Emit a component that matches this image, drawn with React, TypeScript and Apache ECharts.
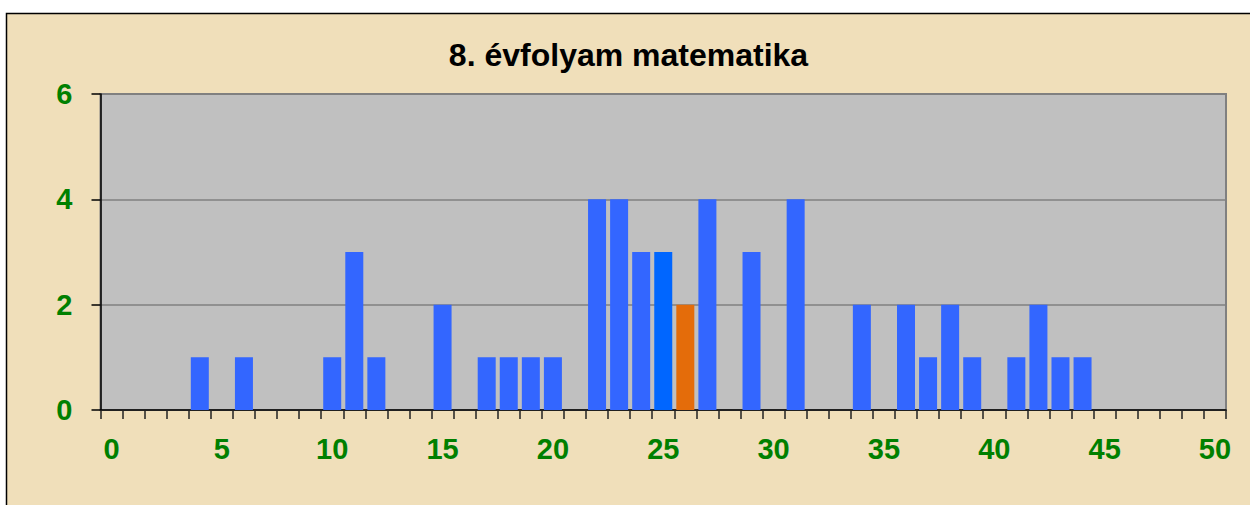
import React, { useEffect, useRef } from "react";
import * as echarts from "echarts";

const titleText = "8. évfolyam matematika";
const categories: string[] = Array.from({ length: 51 }, (_, i) => String(i));
const counts: number[] = [
  0, 0, 0, 0, 1, 0, 1, 0, 0, 0,
  1, 3, 1, 0, 0, 2, 0, 1, 1, 1,
  1, 0, 4, 4, 3, 3, 2, 4, 0, 3,
  0, 4, 0, 0, 2, 0, 2, 1, 2, 1,
  0, 1, 2, 1, 1, 0, 0, 0, 0, 0,
  0,
];
const highlightBlue = 25;
const highlightOrange = 26;

export default function App() {
  const ref = useRef<HTMLDivElement>(null);
  useEffect(() => {
    if (!ref.current) return;
    const chart = echarts.init(ref.current, null, { renderer: "svg" });
    const font = "'Liberation Sans', Arial, sans-serif";
    const data = counts.map((v, i) => {
      let color = "#3366FF";
      if (i === highlightBlue) color = "#0066FF";
      if (i === highlightOrange) color = "#E46C0A";
      return { value: v, itemStyle: { color } };
    });
    chart.setOption({
      animation: false,
      backgroundColor: "#ffffff",
      graphic: [
        {
          type: "rect",
          z: -10,
          silent: true,
          shape: { x: 6.5, y: 13.5, width: 1300, height: 600 },
          style: { fill: "#F0DFBA", stroke: "#000000", lineWidth: 1.5 },
        },
        {
          type: "text",
          x: 628.5,
          y: 55,
          style: {
            text: titleText,
            font: `bold 32px ${font}`,
            fill: "#000000",
            textAlign: "center",
            textVerticalAlign: "middle",
          },
        },
      ],
      grid: {
        left: 100.5,
        right: 24,
        top: 94,
        bottom: 95,
        show: true,
        backgroundColor: "#C0C0C0",
        borderColor: "#808080",
        borderWidth: 2,
        containLabel: false,
      },
      xAxis: {
        type: "category",
        data: categories,
        boundaryGap: true,
        axisLine: { show: true, lineStyle: { color: "#000000", width: 1.5 } },
        axisTick: {
          show: true,
          interval: 0,
          length: 9,
          lineStyle: { color: "#222222", width: 1.5 },
        },
        axisLabel: {
          interval: 4,
          margin: 24,
          color: "#008000",
          fontSize: 29,
          fontWeight: "bold",
          fontFamily: font,
        },
      },
      yAxis: {
        type: "value",
        min: 0,
        max: 6,
        interval: 2,
        axisLine: { show: true, lineStyle: { color: "#000000", width: 1.5 } },
        axisTick: {
          show: true,
          length: 9,
          lineStyle: { color: "#000000", width: 1.5 },
        },
        splitLine: { show: true, lineStyle: { color: "#808080", width: 1.5 } },
        axisLabel: {
          margin: 28,
          color: "#008000",
          fontSize: 29,
          fontWeight: "bold",
          fontFamily: font,
        },
      },
      series: [
        {
          type: "bar",
          data,
          barWidth: 18,
        },
      ],
    });
    return () => chart.dispose();
  }, []);
  return (
    <div
      ref={ref}
      style={{ position: "fixed", left: 0, top: 0, width: 1250, height: 505 }}
    />
  );
}
